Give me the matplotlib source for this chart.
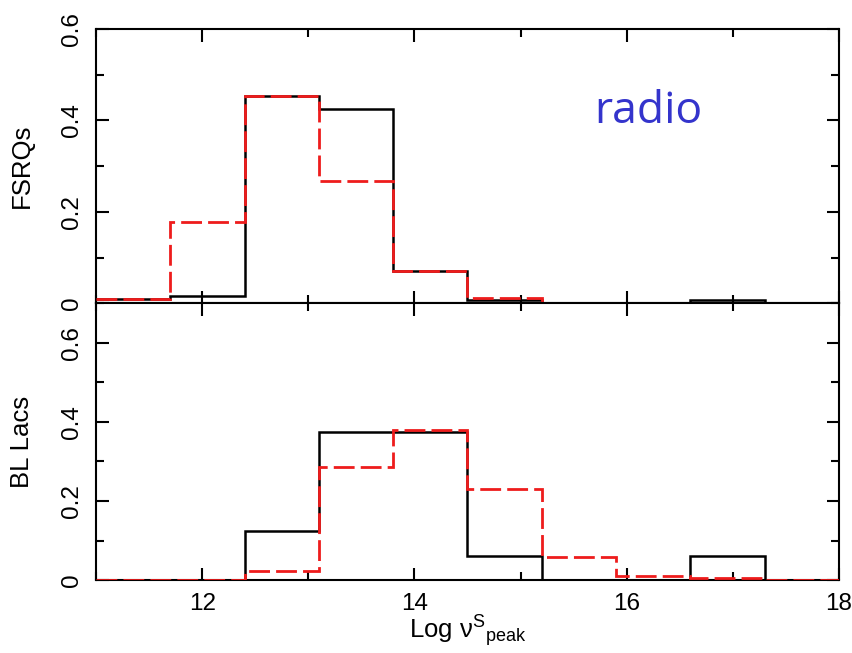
import matplotlib
matplotlib.use("Agg")
import matplotlib.pyplot as plt
from matplotlib.ticker import MultipleLocator, FixedLocator

plt.rcParams['font.family'] = ['Liberation Sans', 'DejaVu Sans']
plt.rcParams['mathtext.fontset'] = 'custom'
plt.rcParams['mathtext.rm'] = 'Liberation Sans'

# Bin edges (Log nu_peak^S)
edges = [11.0, 11.7, 12.4, 13.1, 13.8, 14.5, 15.2, 15.9, 16.6, 17.3, 18.0]

# FSRQs (top panel)
fsrq_black = [0.010, 0.017, 0.454, 0.426, 0.072, 0.007, 0.0, 0.0, 0.008, 0.0]
fsrq_red   = [0.010, 0.179, 0.454, 0.268, 0.072, 0.011, 0.0, 0.0, 0.0, 0.0]

# BL Lacs (bottom panel)
bll_black = [0.0, 0.0, 0.124, 0.374, 0.374, 0.062, 0.0, 0.0, 0.062, 0.0]
bll_red   = [0.0, 0.0, 0.024, 0.285, 0.381, 0.231, 0.059, 0.010, 0.004, 0.0]

xticks = [12, 14, 16, 18]
yticks = [0, 0.2, 0.4, 0.6]
ytick_labels = ['0', '0.2', '0.4', '0.6']

W, H = 853, 653
fig = plt.figure(figsize=(W / 100, H / 100), dpi=100)

left, right = 96 / W, 839 / W
ax_top = fig.add_axes([left, 1 - 303.5 / H, right - left, (303.5 - 29) / H])
ax_bot = fig.add_axes([left, 1 - 580 / H, right - left, (580 - 303.5) / H])

red = '#ee1c1c'
for ax, blk, rd, ymax, lab in [(ax_top, fsrq_black, fsrq_red, 0.6, 'FSRQs'),
                                (ax_bot, bll_black, bll_red, 0.7, 'BL Lacs')]:
    ax.stairs(blk, edges, baseline=None, color='black', lw=1.8, zorder=2)
    ax.stairs(rd, edges, baseline=None, color=red, lw=2.0,
              linestyle=(0, (7.5, 2.2)), zorder=3)
    ax.set_xlim(11, 18)
    ax.set_ylim(0, ymax)
    ax.xaxis.set_major_locator(FixedLocator(xticks))
    ax.xaxis.set_minor_locator(MultipleLocator(1))
    ax.yaxis.set_major_locator(FixedLocator(yticks))
    ax.set_yticklabels(ytick_labels, rotation=90, va='center')
    ax.yaxis.set_minor_locator(MultipleLocator(0.1))
    ax.tick_params(which='both', direction='in', top=True, right=True,
                   width=1.5, labelsize=17.5, pad=9)
    ax.tick_params(which='major', length=9)
    ax.tick_params(which='minor', length=6)
    for s in ax.spines.values():
        s.set_linewidth(1.5)
    ax.set_ylabel(lab, fontsize=18.5)
    ax.yaxis.set_label_coords(-0.084, 0.5)

ax_top.tick_params(axis='x', labelbottom=False)
ax_bot.set_xticklabels([str(t) for t in xticks])
ax_bot.set_xlabel(r'Log $\mathregular{\nu^{S}{}_{peak}}$', fontsize=18.5, labelpad=-1)

ax_top.text(0.743, 0.394 / 0.6, 'radio', transform=ax_top.transAxes,
            fontsize=32, color='#3434cc', family='Open Sans',
            ha='center', va='baseline')

fig.savefig('out.png', dpi=100)
